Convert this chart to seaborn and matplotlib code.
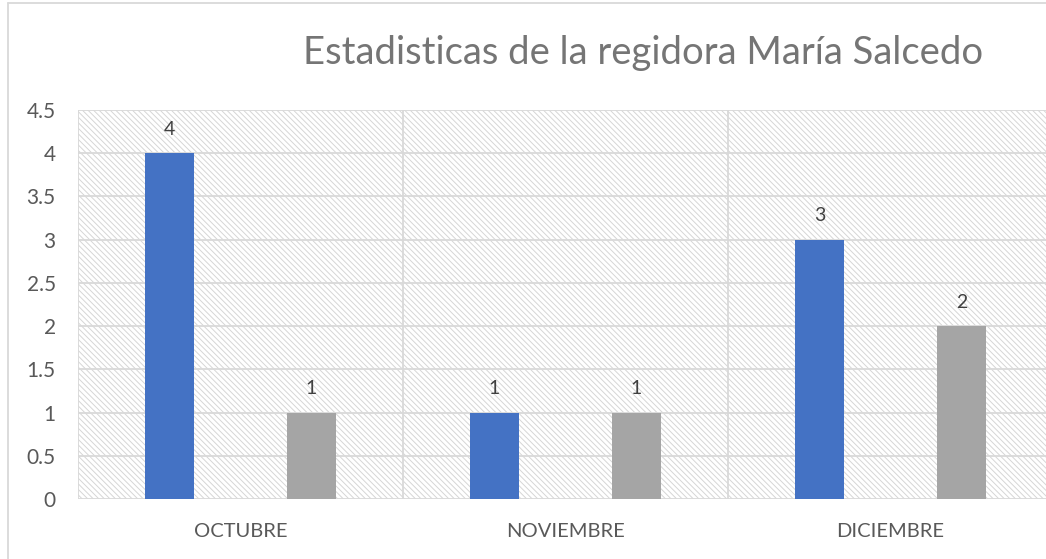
import matplotlib
matplotlib.use("Agg")
import matplotlib.pyplot as plt
import seaborn as sns
import pandas as pd
from matplotlib.patches import Rectangle
from matplotlib.lines import Line2D

# Data
meses = ["OCTUBRE", "NOVIEMBRE", "DICIEMBRE"]
serie_1 = [4, 1, 3]
serie_2 = [0, 0, 0]
serie_3 = [1, 1, 2]
series = ["Serie 1", "Serie 2", "Serie 3"]
colores = ["#4472C4", "#ED7D31", "#A5A5A5"]
y_ticks = [0, 0.5, 1, 1.5, 2, 2.5, 3, 3.5, 4, 4.5]

df = pd.DataFrame({
    "mes": meses * 3,
    "valor": serie_1 + serie_2 + serie_3,
    "serie": [s for s in series for _ in meses],
})

sns.set_style("white")
plt.rcParams["font.family"] = ["Lato", "DejaVu Sans"]
plt.rcParams["hatch.linewidth"] = 0.7

fig = plt.figure(figsize=(10.46, 5.59), dpi=100)
ax = fig.add_axes([78 / 1046, 60 / 559, 975 / 1046, 389 / 559])

# hatched background
ax.add_patch(Rectangle((0, 0), 1, 1, transform=ax.transAxes, facecolor="white",
                       edgecolor="#d6d6d6", hatch="\\" * 6, linewidth=0, zorder=0))

sns.barplot(data=df, x="mes", y="valor", hue="serie", palette=colores,
            width=0.655, gap=0.31, linewidth=0, saturation=1, legend=False,
            ax=ax, zorder=3)

# data labels (skip the empty middle series)
for i, cont in enumerate(ax.containers):
    if series[i] == "Serie 2":
        continue
    ax.bar_label(cont, labels=[f"{v:g}" for v in cont.datavalues], padding=11,
                 fontsize=14, color="#404040")

ax.set_xlim(-0.5, 2.5)
ax.set_ylim(0, 4.5)
ax.set_yticks(y_ticks)
ax.set_yticklabels([f"{t:g}" for t in y_ticks])
ax.set_xlabel("")
ax.set_ylabel("")

for t in y_ticks:
    ax.axhline(t, color="#d9d9d9", linewidth=1.3, zorder=1)
for x in [-0.5, 0.5, 1.5]:
    ax.axvline(x, color="#d9d9d9", linewidth=1.3, zorder=1)

for s in ax.spines.values():
    s.set_visible(False)
ax.tick_params(axis="both", length=0, labelsize=15, labelcolor="#595959")
ax.tick_params(axis="x", labelsize=14.5, pad=17)
ax.tick_params(axis="y", pad=16)

fig.text(643 / 1046, 1 - 53 / 559, "Estadisticas de la regidora María Salcedo",
         ha="center", va="center", fontsize=27.5, color="#757575")

# chart border
fig.add_artist(Line2D([8 / 1046, 8 / 1046], [0, 1 - 3 / 559], color="#d9d9d9",
                      linewidth=1.3, transform=fig.transFigure))
fig.add_artist(Line2D([8 / 1046, 1], [1 - 3 / 559, 1 - 3 / 559], color="#d9d9d9",
                      linewidth=1.3, transform=fig.transFigure))

fig.savefig("out.png", dpi=100)
